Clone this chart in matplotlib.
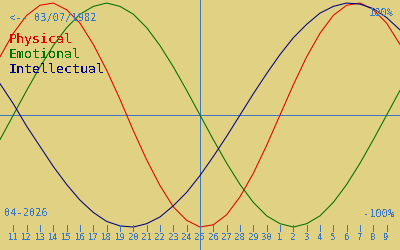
import matplotlib
matplotlib.use("Agg")
import matplotlib.pyplot as plt

# biorhythm values, one per day from 10 April to 10 May 2026 (center = 25 April)
day_offsets = list(range(-15, 16))
physical = [0.52, 0.73, 0.89, 0.98, 1.00, 0.94, 0.82, 0.63, 0.40, 0.14, -0.14,
            -0.40, -0.63, -0.82, -0.94, -1.00, -0.98, -0.89, -0.73, -0.52, -0.27,
            0.00, 0.27, 0.52, 0.73, 0.89, 0.98, 1.00, 0.94, 0.82, 0.63]
emotional = [-0.22, 0.00, 0.22, 0.43, 0.62, 0.78, 0.90, 0.97, 1.00, 0.97, 0.90,
             0.78, 0.62, 0.43, 0.22, 0.00, -0.22, -0.43, -0.62, -0.78, -0.90,
             -0.97, -1.00, -0.97, -0.90, -0.78, -0.62, -0.43, -0.22, 0.00, 0.22]
intellectual = [0.28, 0.10, -0.10, -0.28, -0.46, -0.62, -0.76, -0.87, -0.95, -0.99,
                -1.00, -0.97, -0.91, -0.81, -0.69, -0.54, -0.37, -0.19, 0.00, 0.19,
                0.37, 0.54, 0.69, 0.81, 0.91, 0.97, 1.00, 0.99, 0.95, 0.87, 0.76]
tick_days = [11, 12, 13, 14, 15, 16, 17, 18, 19, 20, 21, 22, 23, 24, 25, 26, 27,
             28, 29, 30, 1, 2, 3, 4, 5, 6, 7, 8, 9]
tick_offsets = list(range(-14, 15))

BG = "#e0d282"
AXIS = "#3a78c6"
MONO = "DejaVu Sans Mono"
LW = 0.72   # axis lines, one pixel at 100 dpi
CLW = 0.75  # curves

plt.rcParams["text.antialiased"] = False

fig = plt.figure(figsize=(4, 2.5), dpi=100, facecolor=BG)
ax = fig.add_axes([0, 0, 1, 1], facecolor=BG)
ax.set_xlim(-15, 15)
ax.set_ylim(-1.205, 1.027)
ax.axis("off")

# center lines
ax.axhline(0, color=AXIS, lw=LW, antialiased=False)
ax.axvline(0, color=AXIS, lw=LW, antialiased=False)

ax.plot(day_offsets, physical, color="#e00000", lw=CLW)
ax.plot(day_offsets, emotional, color="#007000", lw=CLW)
ax.plot(day_offsets, intellectual, color="#000080", lw=CLW)

# day ticks along the bottom
ax.vlines(tick_offsets, -1.036, -0.982, color=AXIS, lw=LW, antialiased=False)
for off, d in zip(tick_offsets, tick_days):
    ax.text(off, -1.118, str(d), ha="center", va="baseline",
            fontsize=6.5, family=MONO, color=AXIS)

def px(x, y):
    return x / 400, 1 - y / 250

fig.text(*px(9, 21), "<-- 03/07/1982", fontsize=7.5, family=MONO, color=AXIS, va="baseline")
fig.text(*px(9, 43), "Physical", fontsize=9.5, family=MONO, color="#e00000", va="baseline")
fig.text(*px(9, 58), "Emotional", fontsize=9.5, family=MONO, color="#007000", va="baseline")
fig.text(*px(9, 73), "Intellectual", fontsize=9.5, family=MONO, color="#000080", va="baseline")
fig.text(*px(394, 16), "100%", fontsize=7.5, family=MONO, color=AXIS, va="baseline", ha="right")
fig.text(*px(394, 217), "-100%", fontsize=7.5, family=MONO, color=AXIS, va="baseline", ha="right")
fig.text(*px(4, 216), "04-2026", fontsize=7.5, family=MONO, color=AXIS, va="baseline")

fig.savefig("out.png", dpi=100, facecolor=BG)
